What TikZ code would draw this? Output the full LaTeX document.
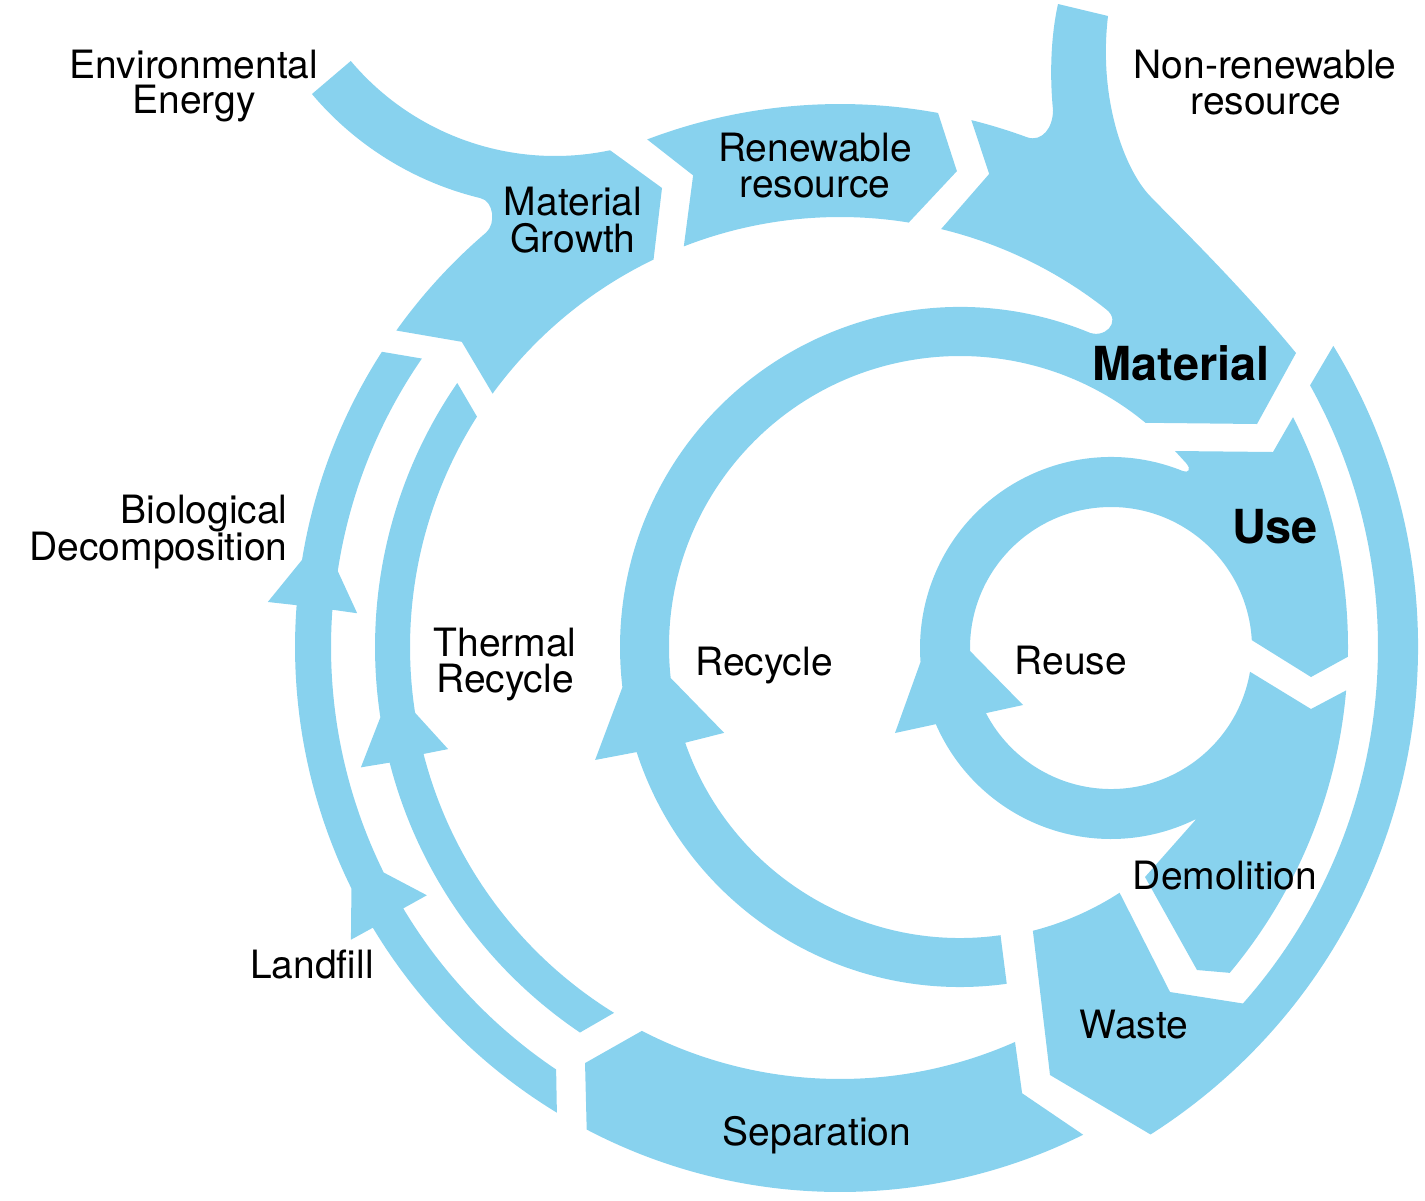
\documentclass[tikz,border=0pt]{standalone}
\usepackage{fontspec}
\setmainfont{TeX Gyre Heros}
\definecolor{flow}{RGB}{136,210,238}
\begin{document}
\begin{tikzpicture}[x=0.02cm,y=-0.02cm,
  band/.style={fill=flow, draw=none},
  lbl/.style={font=\fontsize{22.2}{24}\selectfont, inner sep=0pt, text=black},
  blbl/.style={font=\fontsize{26.7}{30}\selectfont\bfseries, inner sep=0pt, text=black}]
\useasboundingbox (0,0) rectangle (1425,1200);
\coordinate (C) at (840,647);
\coordinate (Q) at (960,647);
\coordinate (R) at (1111,648);
\coordinate (E) at (555,-111);

% Environmental energy inflow + Material Growth
\fill[band] ([shift={(E)}]139.85:318) -- ([shift={(E)}]139.9:267)
  arc[start angle=139.9, end angle=78.1, radius=267]
  -- (662,188) -- ([shift={(C)}]244.3:430)
  arc[start angle=244.3, end angle=216.1, radius=430]
  -- ([shift={(C)}]218.9:486) -- ([shift={(C)}]215.5:545)
  arc[start angle=215.5, end angle=229.5, radius=545]
  .. controls (496,224) and (494,201) .. ([shift={(E)}]103.6:318)
  arc[start angle=103.6, end angle=139.85, radius=318] -- cycle;

% Renewable resource
\fill[band] ([shift={(C)}]249.2:543)
  arc[start angle=249.2, end angle=280.4, radius=543]
  -- ([shift={(C)}]283.8:490) -- ([shift={(C)}]279.2:430)
  arc[start angle=279.2, end angle=248.7, radius=430]
  -- ([shift={(C)}]252.7:494) -- cycle;

% Material + Recycle ring + Non-renewable inflow
\fill[band] ([shift={(Q)}]82:291)
  arc[start angle=82, end angle=160.8, radius=291]
  -- ([shift={(Q)}]160:251) -- ([shift={(Q)}]173.9:291)
  arc[start angle=173.9, end angle=309.6, radius=291]
  -- (1257,424) -- (1296,353)
  .. controls (1240,285) and (1175,222) .. (1150,196)
  .. controls (1125,170) and (1098,100) .. (1108,16)
  -- (1058,4)
  .. controls (1050,40) and (1050,80) .. (1053,110)
  .. controls (1053,128) and (1042,142) .. ([shift={(C)}]290.2:543)
  arc[start angle=290.2, end angle=284, radius=543]
  -- ([shift={(C)}]287.5:496) -- ([shift={(C)}]283.6:430)
  arc[start angle=283.6, end angle=308.3, radius=430]
  .. controls (1122,322) and (1104,340) .. ([shift={(Q)}]292:340)
  arc[start angle=292, end angle=173.2, radius=340]
  -- ([shift={(Q)}]162.8:382) -- ([shift={(Q)}]162:340)
  arc[start angle=162, end angle=82.1, radius=340] -- cycle;

% Use + Reuse ring + Demolition
\fill[band] ([shift={(R)}]356.8:141) -- (1311,677) -- ([shift={(C)}]1.1:508)
  arc[start angle=1.1, end angle=-26.9, radius=508]
  -- (1273,452) -- (1175,451) -- (1186,463)
  .. controls (1192,470) and (1188,473) .. ([shift={(R)}]292.1:191)
  arc[start angle=292.1, end angle=175.8, radius=191]
  -- (895,733) -- ([shift={(R)}]156.5:191)
  arc[start angle=156.5, end angle=63.4, radius=191]
  -- (1145,877) -- (1197,970) -- ([shift={(C)}]39.9:508)
  arc[start angle=39.9, end angle=4.9, radius=508]
  -- (1311,709) -- ([shift={(R)}]9.7:141)
  arc[start angle=9.7, end angle=152.5, radius=141]
  -- (1023,705) -- ([shift={(R)}]178.8:141)
  arc[start angle=178.8, end angle=356.8, radius=141] -- cycle;

% Waste + outer right ring
\fill[band] ([shift={(Q)}]75.6:293) -- (1050,1075) -- ([shift={(C)}]57.5:578)
  arc[start angle=57.5, end angle=-31.4, radius=578]
  -- ([shift={(C)}]-29.1:538)
  arc[start angle=-29.1, end angle=41.5, radius=538]
  -- (1170,992) -- ([shift={(Q)}]57:293)
  arc[start angle=57, end angle=75.6, radius=293] -- cycle;

% Separation
\fill[band] ([shift={(C)}]66.1:432)
  arc[start angle=66.1, end angle=117.3, radius=432]
  -- ([shift={(C)}]121.5:488) -- ([shift={(C)}]117.7:545)
  arc[start angle=117.7, end angle=63.5, radius=545]
  -- ([shift={(C)}]67.8:482) -- cycle;

% Landfill + Biological decomposition ring
\fill[band] ([shift={(C)}]121.3:545)
  arc[start angle=121.3, end angle=149, radius=545]
  -- ([shift={(C)}]149.1:570) -- ([shift={(C)}]153.7:545)
  arc[start angle=153.7, end angle=184.4, radius=545]
  -- ([shift={(C)}]184.5:574) -- ([shift={(C)}]189.2:545)
  arc[start angle=189.2, end angle=212.8, radius=545]
  -- ([shift={(C)}]214.6:508)
  arc[start angle=214.6, end angle=188.6, radius=508]
  -- ([shift={(C)}]184:484) -- ([shift={(C)}]184.2:509)
  arc[start angle=184.2, end angle=153.7, radius=509]
  -- ([shift={(C)}]149:482) -- ([shift={(C)}]149.1:509)
  arc[start angle=149.1, end angle=123.9, radius=509] -- cycle;

% Thermal recycle ring
\fill[band] ([shift={(C)}]124:465)
  arc[start angle=124, end angle=165.6, radius=465]
  -- ([shift={(C)}]165.9:494) -- ([shift={(C)}]171.3:465)
  arc[start angle=171.3, end angle=214.6, radius=465]
  -- ([shift={(C)}]212.4:430)
  arc[start angle=212.4, end angle=171.2, radius=430]
  -- ([shift={(C)}]165.4:405) -- ([shift={(C)}]165.6:430)
  arc[start angle=165.6, end angle=121.7, radius=430] -- cycle;

% Labels
\node[lbl, anchor=base] (envA) at (194,78) {Environmental};
\node[lbl, anchor=base] (envB) at (194,113) {Energy};
\node[lbl, anchor=base] (nonA) at (1265,78) {Non-renewable};
\node[lbl, anchor=base] (nonB) at (1266,114) {resource};
\node[lbl, anchor=base] (renA) at (815,161) {Renewable};
\node[lbl, anchor=base] (renB) at (815,197) {resource};
\node[lbl, anchor=base] (mgA) at (573,215) {Material};
\node[lbl, anchor=base] (mgB) at (573,252) {Growth};
\node[blbl, anchor=base] (mat) at (1181,380) {Material};
\node[blbl, anchor=base] (use) at (1275,543) {Use};
\node[lbl, anchor=base east] (bioA) at (288,523) {Biological};
\node[lbl, anchor=base east] (bioB) at (288,560) {Decomposition};
\node[lbl, anchor=base] (thA) at (505,656) {Thermal};
\node[lbl, anchor=base] (thB) at (505,692) {Recycle};
\node[lbl, anchor=base] (rec) at (764,675) {Recycle};
\node[lbl, anchor=base] (reu) at (1071,674) {Reuse};
\node[lbl, anchor=base] (dem) at (1225,889) {Demolition};
\node[lbl, anchor=base] (wst) at (1134,1038) {Waste};
\node[lbl, anchor=base] (sep) at (817,1145) {Separation};
\node[lbl, anchor=base] (lnd) at (312,978) {Landfill};
\end{tikzpicture}
\end{document}
